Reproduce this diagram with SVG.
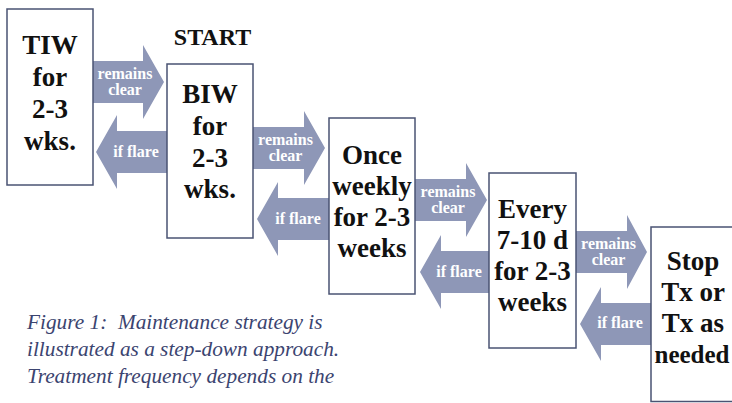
<svg xmlns="http://www.w3.org/2000/svg" width="732" height="403" viewBox="0 0 732 403">
<style>
.box{fill:#fff;stroke:#4a5373;stroke-width:1.5}
.bt{font-family:'Liberation Serif','Times New Roman',serif;font-weight:bold;font-size:27px;fill:#111;text-anchor:middle}
.arr{fill:#8e97b7}
.at{font-family:'Liberation Serif','Times New Roman',serif;font-weight:bold;font-size:16px;fill:#fff;text-anchor:middle}
.cap{font-family:'Liberation Serif','Times New Roman',serif;font-style:italic;font-size:21.3px;fill:#3b4470;white-space:pre}
.start{font-family:'Liberation Serif','Times New Roman',serif;font-weight:bold;font-size:24px;fill:#111;text-anchor:middle}
</style>
<rect width="732" height="403" fill="#fff"/>
<g id="connectors">
  <g id="c1-right"><polygon class="arr" points="93,61 143,61 143,45 164,82 143,119 143,103 93,103"/><text class="at" x="125" y="79">remains</text><text class="at" x="125" y="95">clear</text></g>
  <g id="c1-left"><polygon class="arr" points="167,131 117,131 117,115 96,152 117,189 117,173 167,173"/><text class="at" x="136" y="157">if flare</text></g>
  <g id="c2-right"><polygon class="arr" points="253,127 304,127 304,111 325,148 304,185 304,169 253,169"/><text class="at" x="285.5" y="145">remains</text><text class="at" x="285.5" y="161">clear</text></g>
  <g id="c2-left"><polygon class="arr" points="329,198 278,198 278,182 257,219 278,256 278,240 329,240"/><text class="at" x="298" y="223.5">if flare</text></g>
  <g id="c3-right"><polygon class="arr" points="415,179 466,179 466,163 487,200 466,237 466,221 415,221"/><text class="at" x="448" y="197">remains</text><text class="at" x="448" y="213">clear</text></g>
  <g id="c3-left"><polygon class="arr" points="489,251 441,251 441,235 420,272 441,309 441,293 489,293"/><text class="at" x="459" y="276.5">if flare</text></g>
  <g id="c4-right"><polygon class="arr" points="576,231 627,231 627,215 647,252 627,289 627,273 576,273"/><text class="at" x="608.5" y="249">remains</text><text class="at" x="608.5" y="265">clear</text></g>
  <g id="c4-left"><polygon class="arr" points="651,303 601,303 601,287 580,324 601,361 601,345 651,345"/><text class="at" x="620" y="328">if flare</text></g>
</g>
<g id="n-tiw"><rect class="box" x="7" y="9" width="86" height="176"/>
  <text class="bt" x="50" y="54">TIW</text><text class="bt" x="50" y="86">for</text><text class="bt" x="50" y="118">2-3</text><text class="bt" x="50" y="150">wks.</text></g>
<g id="n-biw"><rect class="box" x="167" y="64" width="86" height="174"/>
  <text class="bt" x="210" y="103">BIW</text><text class="bt" x="210" y="135">for</text><text class="bt" x="210" y="167">2-3</text><text class="bt" x="210" y="198">wks.</text></g>
<g id="n-once"><rect class="box" x="329" y="118" width="86" height="176"/>
  <text class="bt" x="372" y="164">Once</text><text class="bt" x="372" y="195">weekly</text><text class="bt" x="372" y="226">for 2-3</text><text class="bt" x="372" y="257">weeks</text></g>
<g id="n-every"><rect class="box" x="489" y="173" width="87" height="175"/>
  <text class="bt" x="532.5" y="218">Every</text><text class="bt" x="532.5" y="249">7-10 d</text><text class="bt" x="532.5" y="280">for 2-3</text><text class="bt" x="532.5" y="311">weeks</text></g>
<g id="n-stop"><rect class="box" x="651" y="227" width="90" height="174.5"/>
  <text class="bt" x="693" y="270">Stop</text><text class="bt" x="693" y="301">Tx or</text><text class="bt" x="693" y="332">Tx as</text><text class="bt" x="692" y="363" style="font-size:25px">needed</text></g>
<text id="start-label" class="start" x="212.5" y="45">START</text>
<g id="caption">
  <text class="cap" x="27" y="329" xml:space="preserve">Figure 1:  Maintenance strategy is</text>
  <text class="cap" x="27" y="356">illustrated as a step-down approach.</text>
  <text class="cap" x="27" y="383">Treatment frequency depends on the</text>
</g>
</svg>
